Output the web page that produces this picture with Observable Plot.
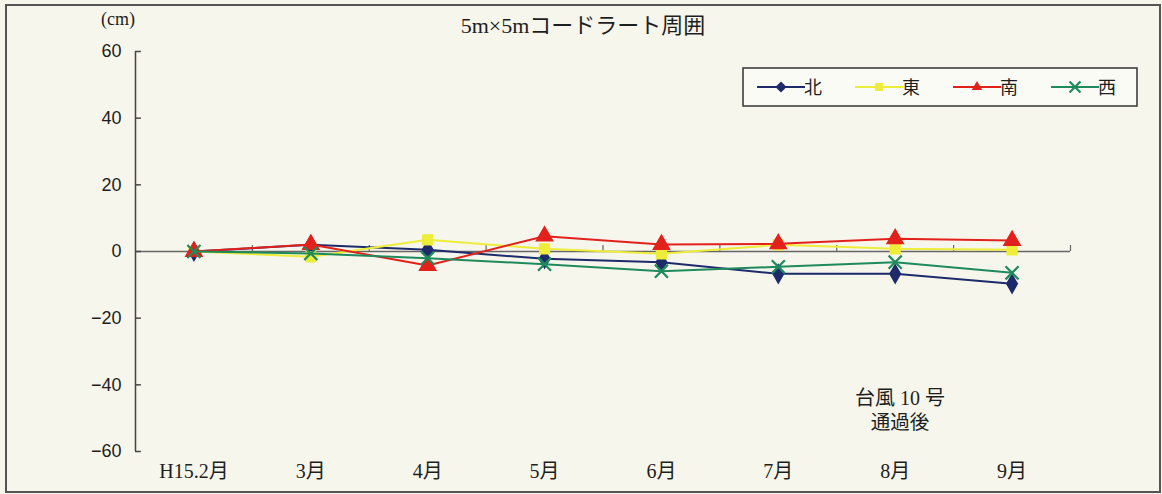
<!DOCTYPE html>
<html><head><meta charset="utf-8">
<script src="https://cdn.jsdelivr.net/npm/d3@7"></script>
<script src="https://cdn.jsdelivr.net/npm/@observablehq/plot@0.6"></script>
<style>
html,body{margin:0;padding:0;background:#f6f6ec;}
#chart{position:relative;width:1162px;height:494px;}
</style></head>
<body><div id="chart"></div>
<script>
const months = ["H15.2月","3月","4月","5月","6月","7月","8月","9月"];
const north = [0, 2, 0.5, -2.2, -3.2, -6.7, -6.7, -9.7];
const east  = [0, -1.6, 3.5, 0.8, -0.7, 2, 0.8, 0.5];
const south = [0, 2.1, -4.2, 4.6, 2.1, 2.3, 3.8, 3.3];
const west  = [0, -0.6, -2, -3.8, -5.9, -4.6, -3.2, -6.4];
const yTicks = [-60, -40, -20, 0, 20, 40, 60];
const seriesNames = ["北","東","南","西"];
const seriesColors = ["#1d2b6b","#eded3a","#e3211c","#1f8a5c"];
const seriesSymbols = ["diamond","square","triangle","times"];
const seriesValues = [north, east, south, west];

const data = [];
seriesNames.forEach((s, k) => seriesValues[k].forEach((v, i) => data.push({s, i, v})));

const SERIF = "'Liberation Serif', 'Noto Sans CJK JP', serif";
const SANS = "'Liberation Sans', Arial, sans-serif";
const W = 1162, H = 494;
const ink = "#1e1e1e";
const marks = [
  Plot.ruleY([0], {stroke: "#666", strokeWidth: 1.5}),
  Plot.ruleX([-0.5], {y1: -60, y2: 60, stroke: "#444", strokeWidth: 1.5}),
  Plot.ruleY(yTicks, {x1: -0.5, x2: -0.45, stroke: "#444", strokeWidth: 1.5}),
  Plot.ruleX(d3.range(0.5, 8, 1), {y1: 0, y2: 1.8, stroke: "#666", strokeWidth: 1.2}),
  Plot.axisY({ticks: yTicks, tickSize: 0, tickPadding: 14,
    fontSize: 18, fontFamily: SANS, label: null, color: ink}),
  Plot.axisX({ticks: d3.range(8), tickSize: 0, tickPadding: 12, tickFormat: i => months[i],
    fontSize: 20, fontFamily: SERIF, label: null, color: ink})
];
seriesNames.forEach((s, k) => {
  const d = data.filter(r => r.s === s);
  marks.push(Plot.line(d, {x: "i", y: "v", stroke: seriesColors[k], strokeWidth: 2}));
  if (seriesSymbols[k] === "times")
    marks.push(Plot.dot(d, {x: "i", y: "v", symbol: "times", stroke: seriesColors[k], strokeWidth: 2.2, r: 6}));
  else
    marks.push(Plot.dot(d, {x: "i", y: "v", symbol: seriesSymbols[k], fill: seriesColors[k],
      stroke: seriesColors[k], r: seriesSymbols[k] === "triangle" ? 6 : 5.5}));
});

const plot = Plot.plot({
  width: W, height: H,
  marginLeft: 135, marginRight: 92, marginTop: 51, marginBottom: 43,
  style: {background: "transparent", overflow: "visible", fontFamily: SERIF},
  x: {type: "linear", domain: [-0.5, 7.5], axis: null},
  y: {domain: [-60, 60], axis: null},
  marks
});
document.getElementById("chart").appendChild(plot);

const svg = d3.select(plot);
// outer frame
svg.insert("rect", ":first-child").attr("x", 6).attr("y", 5).attr("width", 1154).attr("height", 487)
  .attr("fill", "#f6f6ec").attr("stroke", "#555").attr("stroke-width", 2);
const txt = (x, y, size, s) => svg.append("text").attr("x", x).attr("y", y)
  .attr("text-anchor", "middle").attr("font-size", size).attr("font-family", SERIF)
  .attr("fill", ink).text(s);
// title and unit
txt(583, 33, 22, "5m×5mコードラート周囲");
txt(118, 25, 18, "(cm)");
// annotation
txt(900, 405, 20, "台風 10 号");
txt(900, 429, 19.5, "通過後");
// legend
const lg = svg.append("g");
lg.append("rect").attr("x", 743).attr("y", 68).attr("width", 394).attr("height", 38)
  .attr("fill", "#fbfbf5").attr("stroke", "#333").attr("stroke-width", 1.5);
const sym = {diamond: d3.symbolDiamond2, square: d3.symbolSquare2, triangle: d3.symbolTriangle2, times: d3.symbolTimes};
seriesNames.forEach((s, k) => {
  const x0 = 757 + k * 98;
  lg.append("line").attr("x1", x0).attr("x2", x0 + 48).attr("y1", 87).attr("y2", 87)
    .attr("stroke", seriesColors[k]).attr("stroke-width", 2);
  const p = lg.append("path").attr("transform", `translate(${x0 + 24},87)`)
    .attr("d", d3.symbol(sym[seriesSymbols[k]], 80)());
  if (seriesSymbols[k] === "times") p.attr("fill", "none").attr("stroke", seriesColors[k]).attr("stroke-width", 2.2);
  else p.attr("fill", seriesColors[k]);
  lg.append("text").attr("x", x0 + 56).attr("y", 94).attr("font-size", 18).attr("font-family", SERIF)
    .attr("fill", ink).text(s);
});
</script></body></html>
